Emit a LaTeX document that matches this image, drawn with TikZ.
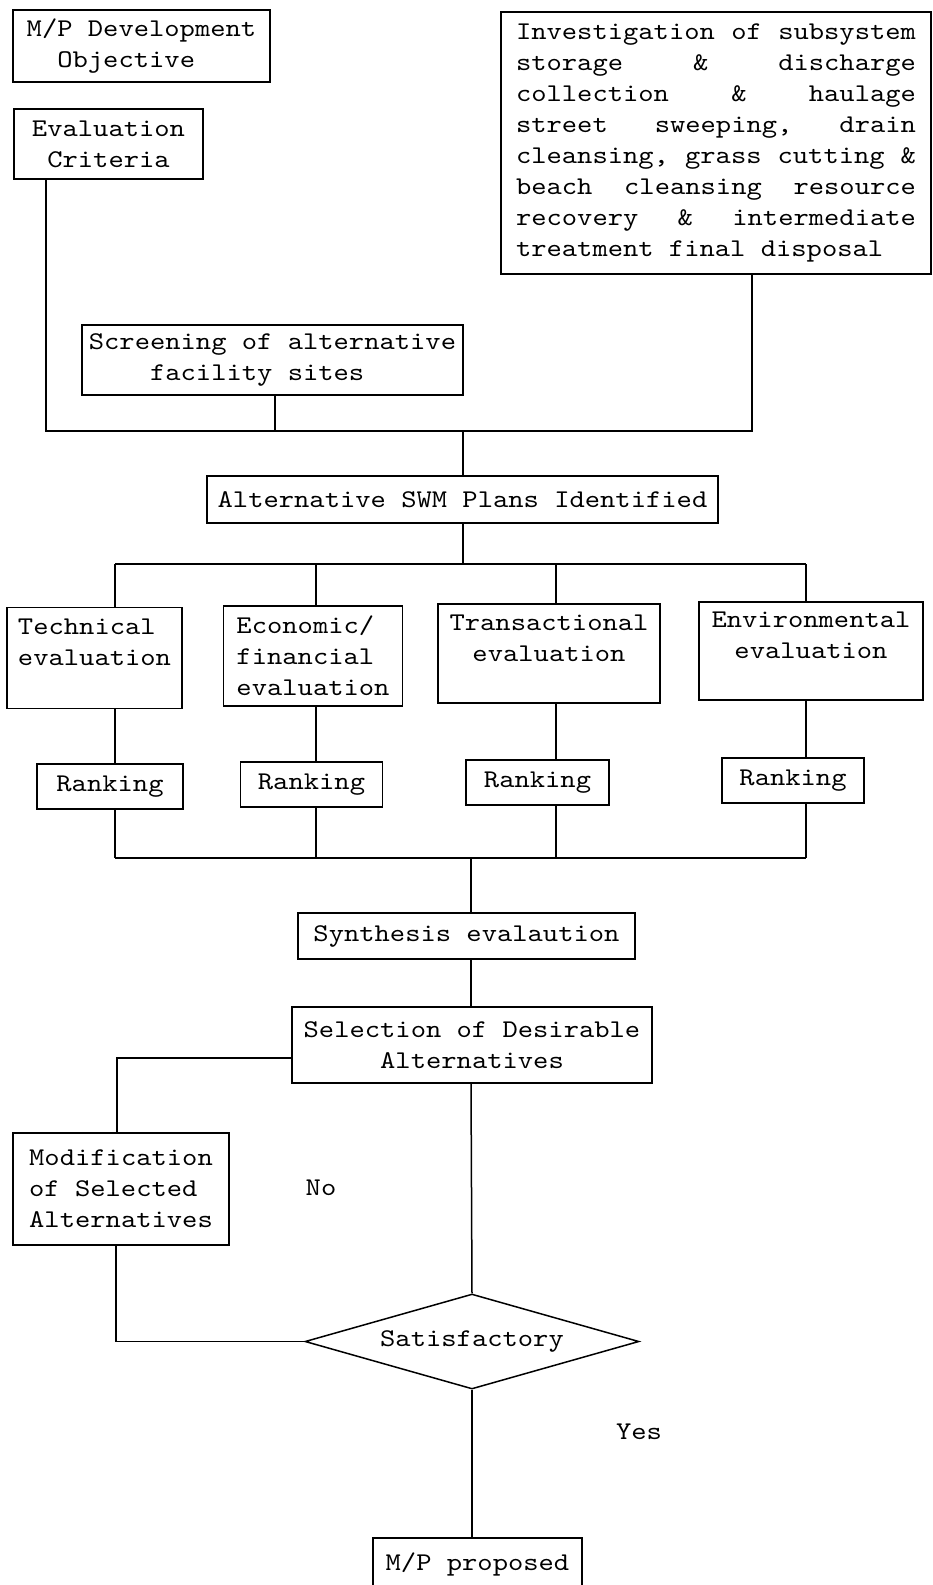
\documentclass[tikz,border=0pt]{standalone}
\usepackage{fontspec}
\usetikzlibrary{shapes.geometric}
\newfontfamily\twfont{lmmono10-regular.otf}[FakeStretch=1.143]
\newcommand\dfont{\twfont\fontsize{25.5pt}{31pt}\selectfont}
\tikzset{
  box/.style={draw, line width=1.5pt, inner sep=0pt, align=center, font=\dfont},
  lbl/.style={inner sep=0pt, font=\dfont},
  conn/.style={line width=1.5pt},
}
\begin{document}
\begin{tikzpicture}[x=1pt,y=-1pt]
\useasboundingbox (0,0) rectangle (932,1585);
\clip (0,0) rectangle (932,1585);

% boxes
\node[box, align=left, minimum width=257pt, minimum height=72pt] (mp) at (141.5,46) {M/P Development\\\phantom{MM}Objective};
\node[box, minimum width=189pt, minimum height=70pt] (ec) at (108.5,144) {Evaluation\\Criteria};
\node[box, minimum width=430pt, minimum height=262pt] (inv) at (716,143) {%
\hbox to 400pt{Investigation of subsystem}\\
\hbox to 400pt{storage\hfill\&\hfill discharge}\\
\hbox to 400pt{collection\hfill\&\hfill haulage}\\
\hbox to 400pt{street\hfill sweeping,\hfill drain}\\
\hbox to 400pt{cleansing, grass cutting \&}\\
\hbox to 400pt{beach\hfill cleansing\hfill resource}\\
\hbox to 400pt{recovery\hfill\&\hfill intermediate}\\
\hbox to 400pt{treatment final disposal\hfill}};
\node[box, align=left, minimum width=381pt, minimum height=70pt] (scr) at (272.5,360) {Screening of alternative\\\phantom{MMMM}facility sites};
\node[box, minimum width=511pt, minimum height=47pt] (alt) at (462.5,499.5) {Alternative SWM Plans Identified};

\node[box, align=left, minimum width=175pt, minimum height=101pt] (tech) at (94.5,658) {Technical\\evaluation\\\mbox{}};
\node[box, align=left, minimum width=179pt, minimum height=100pt] (econ) at (313,656) {Economic/\\financial\\evaluation};
\node[box, minimum width=222pt, minimum height=99pt] (trans) at (549,653.5) {Transactional\\evaluation\\\mbox{}};
\node[box, minimum width=224pt, minimum height=98pt] (env) at (811,651) {Environmental\\evaluation\\\mbox{}};

\node[box, minimum width=146pt, minimum height=45pt] (r1) at (110,786.5) {Ranking};
\node[box, minimum width=142pt, minimum height=45pt] (r2) at (311.5,784.5) {Ranking};
\node[box, minimum width=143pt, minimum height=45pt] (r3) at (537.5,782.5) {Ranking};
\node[box, minimum width=142pt, minimum height=45pt] (r4) at (793,780.5) {Ranking};

\node[box, minimum width=337pt, minimum height=46pt] (syn) at (466.5,936) {Synthesis evalaution};
\node[box, minimum width=360pt, minimum height=76pt] (sel) at (472,1045) {Selection of Desirable\\Alternatives};
\node[box, align=left, minimum width=216pt, minimum height=112pt] (mod) at (121,1189) {Modification\\of Selected\\Alternatives};
\node[box, diamond, shape aspect=3.5, minimum width=334pt, minimum height=95pt] (sat) at (472,1341.5) {Satisfactory};
\node[box, minimum width=209pt, minimum height=52pt] (prop) at (477.5,1564) {M/P proposed};

\node[lbl] (no) at (321,1188) {No};
\node[lbl] (yes) at (639,1432) {Yes};

% junction coordinates
\coordinate (a0) at (46,431);
\coordinate (aS) at (275,431);
\coordinate (aM) at (463,431);
\coordinate (aR) at (752,431);
\coordinate (b0) at (463,564);
\coordinate (b1) at (115,564);
\coordinate (b2) at (316,564);
\coordinate (b3) at (556,564);
\coordinate (b4) at (806,564);
\coordinate (d0) at (471,858);
\coordinate (d1) at (115,858);
\coordinate (d2) at (316,858);
\coordinate (d3) at (556,858);
\coordinate (d4) at (806,858);
\coordinate (e1) at (117,1058);
\coordinate (f1) at (116,1344);

% connectors
\draw[conn] (ec.south -| a0) -- (a0) -- (aR) -- (inv.south -| aR);
\draw[conn] (scr.south -| aS) -- (aS);
\draw[conn] (aM) -- (alt.north -| aM);
\draw[conn] (alt.south -| b0) -- (b0);
\draw[conn] (b1) -- (b4);
\draw[conn] (b1) -- (tech.north -| b1);
\draw[conn] (b2) -- (econ.north -| b2);
\draw[conn] (b3) -- (trans.north -| b3);
\draw[conn] (b4) -- (env.north -| b4);
\draw[conn] (tech.south -| b1) -- (r1.north -| b1);
\draw[conn] (econ.south -| b2) -- (r2.north -| b2);
\draw[conn] (trans.south -| b3) -- (r3.north -| b3);
\draw[conn] (env.south -| b4) -- (r4.north -| b4);
\draw[conn] (r1.south -| d1) -- (d1);
\draw[conn] (r2.south -| d2) -- (d2);
\draw[conn] (r3.south -| d3) -- (d3);
\draw[conn] (r4.south -| d4) -- (d4);
\draw[conn] (d1) -- (d4);
\draw[conn] (d0) -- (syn.north -| d0);
\draw[conn] (syn.south -| d0) -- (sel.north -| d0);
\draw[conn] (sel.south -| d0) -- (sat.north);
\draw[conn] (sel.west |- e1) -- (e1) -- (mod.north -| e1);
\draw[conn] (mod.south -| f1) -- (f1 |- sat.west) -- (sat.west);
\draw[conn] (sat.south) -- (prop.north -| sat.south);
\end{tikzpicture}
\end{document}
